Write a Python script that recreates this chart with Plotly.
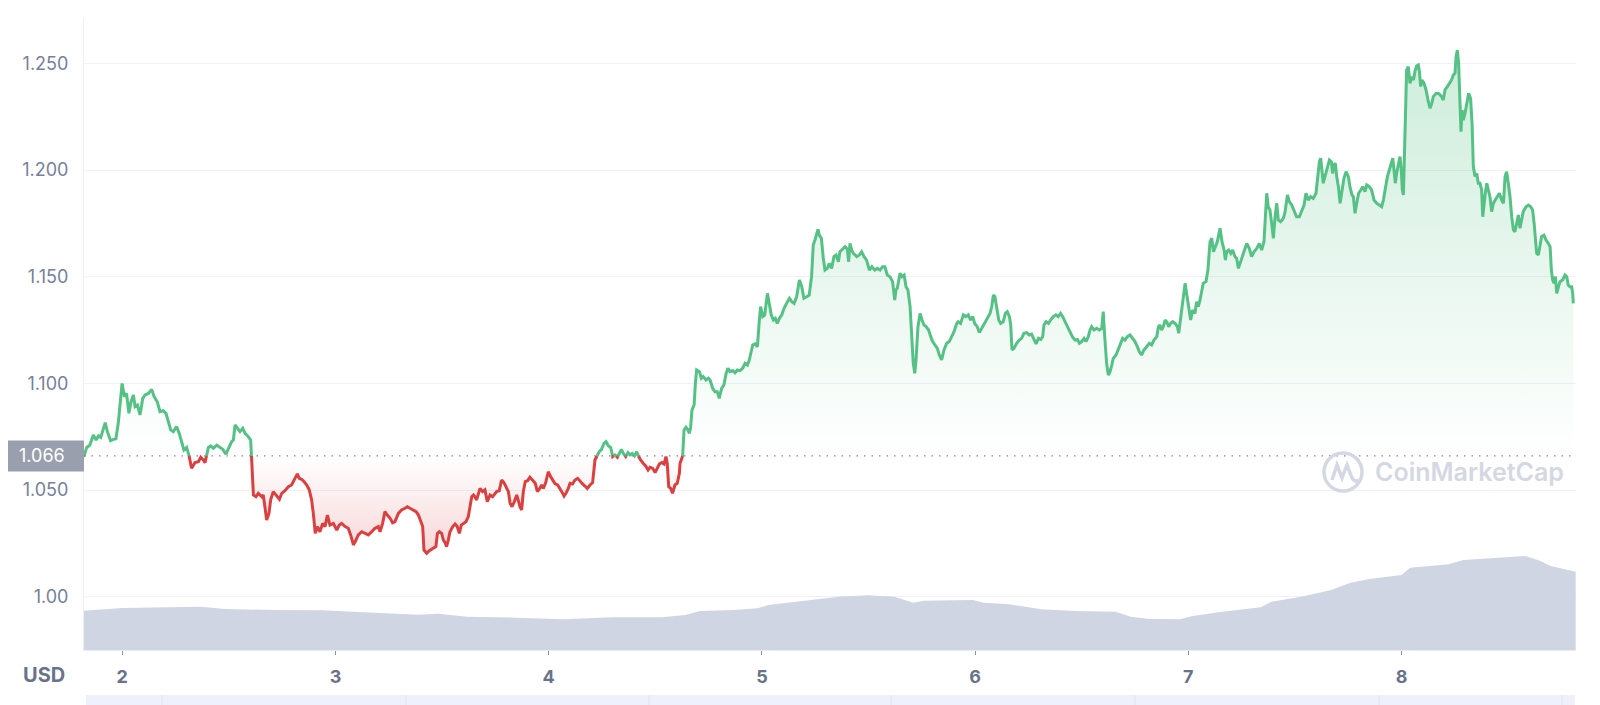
import numpy as np
import plotly.graph_objects as go

# ---------------- data ----------------
days = [
    1.820, 1.833, 1.848, 1.864, 1.877, 1.888, 1.899, 1.911, 1.920, 1.930,
    1.945, 1.958, 1.970, 1.981, 1.989, 1.999, 2.010, 2.020, 2.031, 2.041,
    2.052, 2.060, 2.071, 2.083, 2.096, 2.107, 2.122, 2.138, 2.149, 2.164,
    2.177, 2.192, 2.205, 2.216, 2.227, 2.239, 2.255, 2.267, 2.278, 2.289,
    2.302, 2.314, 2.325, 2.341, 2.357, 2.368, 2.380, 2.388, 2.396, 2.404,
    2.414, 2.427, 2.443, 2.458, 2.471, 2.486, 2.497, 2.513, 2.521, 2.529,
    2.540, 2.552, 2.565, 2.576, 2.591, 2.602, 2.607, 2.615, 2.627, 2.638,
    2.654, 2.661, 2.669, 2.677, 2.688, 2.696, 2.708, 2.721, 2.737, 2.748,
    2.763, 2.779, 2.794, 2.810, 2.821, 2.830, 2.841, 2.852, 2.865, 2.877,
    2.888, 2.896, 2.905, 2.915, 2.927, 2.940, 2.951, 2.962, 2.974, 2.990,
    3.006, 3.018, 3.029, 3.045, 3.060, 3.071, 3.084, 3.096, 3.107, 3.123,
    3.138, 3.154, 3.170, 3.185, 3.201,
    3.209, 3.221, 3.232, 3.243, 3.256, 3.268, 3.279, 3.295, 3.310, 3.326,
    3.337, 3.349, 3.365, 3.378, 3.389, 3.399, 3.409, 3.415, 3.428, 3.440,
    3.451, 3.462, 3.471, 3.478, 3.487, 3.498, 3.506, 3.514, 3.521, 3.529,
    3.537, 3.550, 3.561, 3.571, 3.581, 3.590, 3.600, 3.612, 3.623, 3.631,
    3.639, 3.647, 3.654, 3.662, 3.670, 3.678, 3.690, 3.701, 3.712, 3.725,
    3.737, 3.748, 3.756, 3.768, 3.779, 3.790, 3.800, 3.811, 3.819, 3.828,
    3.839, 3.850, 3.859, 3.865, 3.873, 3.881, 3.890, 3.901, 3.912, 3.925,
    3.937, 3.947, 3.956, 3.967, 3.975, 3.986, 3.998, 4.009, 4.019, 4.030,
    4.042, 4.053, 4.064, 4.072, 4.081, 4.092, 4.100, 4.112, 4.123, 4.136,
    4.147, 4.159, 4.170, 4.181, 4.194, 4.206, 4.217, 4.225, 4.237, 4.248,
    4.259, 4.269, 4.280, 4.291, 4.300, 4.311, 4.322, 4.331, 4.341, 4.350,
    4.361, 4.372, 4.381, 4.392, 4.403, 4.413, 4.422, 4.431, 4.444, 4.455,
    4.466, 4.475, 4.488, 4.499, 4.509, 4.519, 4.530, 4.541, 4.550, 4.556,
    4.563, 4.572, 4.581, 4.592, 4.603, 4.613,
    4.616, 4.628, 4.635, 4.644, 4.653, 4.660, 4.666, 4.672, 4.682, 4.688,
    4.694, 4.707, 4.716, 4.725, 4.738, 4.749, 4.757, 4.769, 4.780, 4.791,
    4.800, 4.811, 4.822, 4.832, 4.841, 4.850, 4.863, 4.874, 4.885, 4.897,
    4.910, 4.921, 4.932, 4.941, 4.947, 4.957, 4.968, 4.979, 4.988, 4.994,
    5.004, 5.013, 5.026, 5.035, 5.044, 5.054, 5.063, 5.072, 5.082, 5.093,
    5.104, 5.116, 5.129, 5.140, 5.151, 5.163, 5.176, 5.187, 5.197, 5.210,
    5.222, 5.233, 5.241, 5.249, 5.257, 5.263, 5.269, 5.279, 5.288, 5.296,
    5.307, 5.316, 5.327, 5.338, 5.348, 5.359, 5.366, 5.379, 5.390, 5.401,
    5.407, 5.413, 5.421, 5.429, 5.445, 5.457, 5.468, 5.479, 5.491, 5.504,
    5.516, 5.529, 5.541, 5.554, 5.566, 5.577, 5.588, 5.601, 5.613, 5.623,
    5.629, 5.635, 5.642, 5.648, 5.657, 5.667, 5.676, 5.685, 5.695, 5.702,
    5.710, 5.717, 5.723, 5.732, 5.742, 5.751, 5.760, 5.770, 5.782, 5.792,
    5.801, 5.812, 5.823, 5.832, 5.843,
    5.854, 5.867, 5.879, 5.890, 5.901, 5.914, 5.921, 5.932, 5.945, 5.957,
    5.968, 5.979, 5.989, 5.998, 6.010, 6.020, 6.031, 6.042, 6.054, 6.070,
    6.078, 6.086, 6.093, 6.101, 6.111, 6.120, 6.132, 6.142, 6.151, 6.161,
    6.167, 6.173, 6.182, 6.195, 6.207, 6.218, 6.229, 6.242, 6.254, 6.265,
    6.276, 6.286, 6.297, 6.308, 6.317, 6.323, 6.333, 6.344, 6.354, 6.367,
    6.379, 6.390, 6.401, 6.411, 6.422, 6.433, 6.445, 6.458, 6.469, 6.480,
    6.489, 6.500, 6.511, 6.520, 6.531, 6.539, 6.547, 6.558, 6.570, 6.583,
    6.594, 6.601, 6.608, 6.617, 6.625, 6.633, 6.641, 6.648, 6.661, 6.670,
    6.680, 6.692, 6.703, 6.714, 6.727, 6.739, 6.750, 6.761, 6.770, 6.781,
    6.792, 6.805, 6.817, 6.828, 6.839, 6.852, 6.860, 6.867, 6.875, 6.883,
    6.891, 6.899, 6.908, 6.917, 6.927, 6.938, 6.949, 6.955, 6.964, 6.974,
    6.985, 6.992, 7.000, 7.011, 7.020, 7.031, 7.039, 7.047, 7.055, 7.064,
    7.070, 7.083, 7.092, 7.102, 7.110, 7.118, 7.127, 7.136, 7.149, 7.158,
    7.168, 7.174, 7.180, 7.189, 7.199, 7.208, 7.219, 7.227, 7.235, 7.243,
    7.250, 7.261, 7.274, 7.286, 7.297, 7.308, 7.321, 7.333, 7.344, 7.355,
    7.363, 7.368, 7.375, 7.383, 7.391, 7.399, 7.407, 7.415, 7.422, 7.433,
    7.446, 7.454, 7.465, 7.474, 7.485, 7.496, 7.508, 7.521, 7.532, 7.543,
    7.552, 7.563, 7.574, 7.586, 7.599, 7.605, 7.615, 7.621, 7.627, 7.633,
    7.641, 7.652, 7.662, 7.671, 7.677, 7.683, 7.690, 7.696, 7.704, 7.712,
    7.721, 7.730, 7.740, 7.751, 7.758, 7.768, 7.774, 7.782, 7.790, 7.799,
    7.809, 7.818, 7.829, 7.837, 7.849, 7.860, 7.871, 7.884, 7.896, 7.907,
    7.915, 7.924, 7.934, 7.943, 7.952, 7.959, 7.965, 7.971, 7.977, 7.985,
    7.993, 7.999, 8.004, 8.009, 8.013, 8.018, 8.024, 8.032, 8.040, 8.048,
    8.056, 8.063, 8.071, 8.079, 8.084, 8.090, 8.096, 8.106, 8.115, 8.126,
    8.134, 8.142, 8.149, 8.162, 8.173, 8.181, 8.188, 8.196, 8.204, 8.215,
    8.224, 8.235, 8.243, 8.251, 8.256, 8.262, 8.268, 8.274, 8.279, 8.284,
    8.290, 8.298, 8.306, 8.315, 8.324, 8.331, 8.337, 8.345, 8.353, 8.360,
    8.368, 8.376, 8.381, 8.387, 8.393, 8.400, 8.407, 8.415, 8.423, 8.431,
    8.440, 8.450, 8.459, 8.470, 8.478, 8.486, 8.493, 8.501, 8.509, 8.517,
    8.525, 8.532, 8.540, 8.548, 8.556, 8.564, 8.571, 8.584, 8.595, 8.606,
    8.615, 8.622, 8.628, 8.634, 8.642, 8.650, 8.657, 8.668, 8.678, 8.689,
    8.697, 8.703, 8.709, 8.715, 8.722, 8.728, 8.736, 8.743, 8.756, 8.767,
    8.775, 8.782, 8.790, 8.798, 8.803, 8.806,
]
price = [
    1.0657, 1.0700, 1.0711, 1.0758, 1.0735, 1.0754, 1.0747, 1.0782, 1.0816, 1.0774,
    1.0732, 1.0738, 1.0741, 1.0813, 1.0891, 1.1000, 1.0938, 1.0953, 1.0860, 1.0914,
    1.0946, 1.0891, 1.0899, 1.0852, 1.0930, 1.0946, 1.0953, 1.0972, 1.0938, 1.0914,
    1.0868, 1.0872, 1.0860, 1.0821, 1.0782, 1.0774, 1.0797, 1.0766, 1.0727, 1.0688,
    1.0700, 1.0657, 1.0602, 1.0629, 1.0633, 1.0654, 1.0641, 1.0629, 1.0665, 1.0700,
    1.0707, 1.0696, 1.0711, 1.0700, 1.0691, 1.0669, 1.0696, 1.0727, 1.0735, 1.0805,
    1.0790, 1.0774, 1.0790, 1.0766, 1.0750, 1.0735, 1.0641, 1.0477, 1.0469, 1.0485,
    1.0469, 1.0477, 1.0422, 1.0360, 1.0391, 1.0454, 1.0493, 1.0477, 1.0457, 1.0485,
    1.0497, 1.0516, 1.0524, 1.0555, 1.0576, 1.0555, 1.0551, 1.0540, 1.0524, 1.0501,
    1.0454, 1.0391, 1.0297, 1.0329, 1.0305, 1.0344, 1.0329, 1.0383, 1.0336, 1.0344,
    1.0313, 1.0336, 1.0344, 1.0329, 1.0321, 1.0290, 1.0243, 1.0266, 1.0290, 1.0305,
    1.0297, 1.0290, 1.0305, 1.0321, 1.0329,
    1.0305, 1.0344, 1.0399, 1.0383, 1.0368, 1.0347, 1.0352, 1.0391, 1.0407, 1.0415,
    1.0422, 1.0415, 1.0407, 1.0399, 1.0383, 1.0360, 1.0329, 1.0219, 1.0204, 1.0216,
    1.0222, 1.0227, 1.0235, 1.0297, 1.0305, 1.0297, 1.0266, 1.0254, 1.0235, 1.0266,
    1.0305, 1.0329, 1.0341, 1.0329, 1.0297, 1.0336, 1.0344, 1.0352, 1.0376, 1.0422,
    1.0469, 1.0477, 1.0469, 1.0454, 1.0477, 1.0508, 1.0493, 1.0501, 1.0446, 1.0477,
    1.0469, 1.0485, 1.0493, 1.0497, 1.0547, 1.0535, 1.0516, 1.0493, 1.0438, 1.0422,
    1.0446, 1.0477, 1.0446, 1.0422, 1.0407, 1.0493, 1.0540, 1.0544, 1.0560, 1.0544,
    1.0532, 1.0493, 1.0504, 1.0524, 1.0508, 1.0535, 1.0586, 1.0563, 1.0544, 1.0529,
    1.0524, 1.0508, 1.0488, 1.0472, 1.0485, 1.0508, 1.0532, 1.0529, 1.0547, 1.0555,
    1.0540, 1.0529, 1.0519, 1.0508, 1.0524, 1.0535, 1.0641, 1.0657, 1.0680, 1.0691,
    1.0719, 1.0727, 1.0707, 1.0700, 1.0657, 1.0665, 1.0654, 1.0672, 1.0691, 1.0672,
    1.0657, 1.0676, 1.0665, 1.0672, 1.0660, 1.0680, 1.0657, 1.0641, 1.0625, 1.0613,
    1.0594, 1.0607, 1.0602, 1.0582, 1.0602, 1.0622, 1.0629, 1.0622, 1.0657, 1.0625,
    1.0516, 1.0508, 1.0485, 1.0524, 1.0532, 1.0579,
    1.0625, 1.0657, 1.0782, 1.0794, 1.0782, 1.0766, 1.0797, 1.0875, 1.0899, 1.1000,
    1.1063, 1.1055, 1.1024, 1.1032, 1.1016, 1.1024, 1.1016, 1.0977, 1.0961, 1.0961,
    1.0930, 1.0977, 1.0993, 1.1047, 1.1071, 1.1055, 1.1060, 1.1050, 1.1063, 1.1060,
    1.1071, 1.1094, 1.1086, 1.1110, 1.1141, 1.1180, 1.1185, 1.1172, 1.1297, 1.1360,
    1.1313, 1.1320, 1.1422, 1.1375, 1.1320, 1.1297, 1.1305, 1.1281, 1.1305, 1.1320,
    1.1352, 1.1375, 1.1399, 1.1383, 1.1375, 1.1406, 1.1484, 1.1453, 1.1399, 1.1406,
    1.1414, 1.1500, 1.1649, 1.1672, 1.1703, 1.1722, 1.1695, 1.1680, 1.1586, 1.1531,
    1.1539, 1.1563, 1.1539, 1.1594, 1.1602, 1.1570, 1.1617, 1.1633, 1.1641, 1.1628,
    1.1570, 1.1656, 1.1625, 1.1609, 1.1594, 1.1602, 1.1617, 1.1594, 1.1578, 1.1531,
    1.1547, 1.1531, 1.1539, 1.1531, 1.1547, 1.1547, 1.1508, 1.1500, 1.1477, 1.1391,
    1.1438, 1.1446, 1.1492, 1.1516, 1.1500, 1.1508, 1.1453, 1.1438, 1.1360, 1.1235,
    1.1094, 1.1047, 1.1110, 1.1266, 1.1328, 1.1297, 1.1274, 1.1266, 1.1250, 1.1219,
    1.1196, 1.1180, 1.1164, 1.1133, 1.1110,
    1.1157, 1.1188, 1.1196, 1.1219, 1.1242, 1.1281, 1.1289, 1.1281, 1.1321, 1.1313,
    1.1321, 1.1297, 1.1313, 1.1281, 1.1266, 1.1238, 1.1258, 1.1281, 1.1305, 1.1328,
    1.1360, 1.1414, 1.1406, 1.1360, 1.1297, 1.1281, 1.1289, 1.1328, 1.1336, 1.1313,
    1.1274, 1.1157, 1.1164, 1.1188, 1.1203, 1.1211, 1.1235, 1.1238, 1.1227, 1.1231,
    1.1206, 1.1185, 1.1211, 1.1206, 1.1219, 1.1274, 1.1289, 1.1281, 1.1297, 1.1313,
    1.1321, 1.1313, 1.1328, 1.1313, 1.1289, 1.1266, 1.1235, 1.1216, 1.1203, 1.1206,
    1.1188, 1.1196, 1.1211, 1.1196, 1.1219, 1.1250, 1.1266, 1.1250, 1.1258, 1.1250,
    1.1258, 1.1336, 1.1219, 1.1094, 1.1039, 1.1055, 1.1086, 1.1117, 1.1133, 1.1157,
    1.1188, 1.1211, 1.1203, 1.1219, 1.1227, 1.1211, 1.1196, 1.1172, 1.1149, 1.1133,
    1.1157, 1.1172, 1.1188, 1.1180, 1.1203, 1.1219, 1.1266, 1.1274, 1.1250, 1.1266,
    1.1297, 1.1289, 1.1266, 1.1281, 1.1289, 1.1281, 1.1266, 1.1235, 1.1313, 1.1375,
    1.1469, 1.1422, 1.1375, 1.1297, 1.1344, 1.1328, 1.1383, 1.1360, 1.1391, 1.1438,
    1.1469, 1.1477, 1.1531, 1.1664, 1.1680, 1.1617, 1.1641, 1.1664, 1.1727, 1.1664,
    1.1625, 1.1578, 1.1617, 1.1625, 1.1609, 1.1625, 1.1594, 1.1586, 1.1539, 1.1563,
    1.1578, 1.1617, 1.1656, 1.1633, 1.1594, 1.1617, 1.1633, 1.1656, 1.1625, 1.1664,
    1.1781, 1.1891, 1.1828, 1.1813, 1.1750, 1.1680, 1.1781, 1.1844, 1.1766, 1.1758,
    1.1774, 1.1805, 1.1883, 1.1852, 1.1836, 1.1805, 1.1781, 1.1781, 1.1805, 1.1836,
    1.1891, 1.1859, 1.1875, 1.1867, 1.1891, 1.1945, 1.2039, 1.2055, 1.2000, 1.1938,
    1.1969, 1.2016, 1.2047, 1.2039, 1.1984, 1.2024, 1.2031, 1.1969, 1.1922, 1.1844,
    1.1906, 1.1961, 1.1992, 1.1969, 1.1922, 1.1883, 1.1875, 1.1797, 1.1844, 1.1891,
    1.1906, 1.1922, 1.1899, 1.1930, 1.1922, 1.1906, 1.1859, 1.1844, 1.1836, 1.1828,
    1.1859, 1.1922, 1.1969, 1.2000, 1.2031, 1.2055, 1.2000, 1.1938, 1.1984, 1.2024,
    1.2063, 1.2000, 1.1906, 1.1883, 1.2063, 1.2281, 1.2469, 1.2484, 1.2406, 1.2437,
    1.2422, 1.2461, 1.2487, 1.2492, 1.2461, 1.2391, 1.2422, 1.2406, 1.2375, 1.2320,
    1.2289, 1.2312, 1.2344, 1.2359, 1.2359, 1.2352, 1.2344, 1.2328, 1.2375, 1.2391,
    1.2406, 1.2422, 1.2445, 1.2453, 1.2531, 1.2562, 1.2500, 1.2266, 1.2180, 1.2281,
    1.2234, 1.2266, 1.2312, 1.2359, 1.2336, 1.2219, 1.2016, 1.1969, 1.1984, 1.1938,
    1.1938, 1.1906, 1.1781, 1.1844, 1.1891, 1.1938, 1.1906, 1.1875, 1.1805, 1.1844,
    1.1859, 1.1875, 1.1891, 1.1859, 1.1844, 1.1969, 1.1992, 1.1938, 1.1875, 1.1781,
    1.1719, 1.1711, 1.1758, 1.1789, 1.1727, 1.1781, 1.1805, 1.1828, 1.1836, 1.1828,
    1.1813, 1.1750, 1.1656, 1.1610, 1.1602, 1.1656, 1.1688, 1.1695, 1.1672, 1.1656,
    1.1641, 1.1531, 1.1485, 1.1469, 1.1500, 1.1422, 1.1453, 1.1477, 1.1485, 1.1508,
    1.1500, 1.1461, 1.1453, 1.1453, 1.1422, 1.1375,
]

# 24h volume (relative units, 0-1000 scale of the chart height)
vol_days = [1.820, 2.00, 2.37, 2.48, 2.71, 2.94, 3.08, 3.21, 3.39, 3.48,
            3.62, 3.85, 4.07, 4.30, 4.53, 4.64, 4.71, 4.87, 4.98, 5.03,
            5.21, 5.36, 5.50, 5.62, 5.67, 5.71, 5.76, 5.99, 6.04, 6.16,
            6.31, 6.47, 6.66, 6.73, 6.82, 6.96, 7.02, 7.16, 7.34, 7.39,
            7.53, 7.67, 7.76, 7.85, 8.00, 8.04, 8.22, 8.29, 8.58, 8.65,
            8.70, 8.817]
volume = [62.2, 66.5, 68.5, 64.9, 63.3, 62.8, 60.6, 58.5, 55.9, 57.4,
          52.7, 51.1, 48.6, 51.7, 51.7, 55.4, 61.7, 63.3, 66.0, 71.2,
          78.0, 84.3, 86.5, 84.3, 79.1, 74.8, 78.0, 79.1, 74.8, 72.3,
          64.4, 61.7, 60.6, 52.7, 49.1, 48.6, 53.8, 60.6, 67.6, 76.4,
          84.3, 94.9, 106.5, 112.3, 118.7, 130.2, 135.6, 142.4, 148.7, 141.3,
          132.9, 123.9]

baseline = 1.066
baseline_label = "1.066"
y_tickvals = [1.00, 1.05, 1.10, 1.15, 1.20, 1.25]
y_ticktext = ["1.00", "1.050", "1.100", "1.150", "1.200", "1.250"]
x_tickvals = [2, 3, 4, 5, 6, 7, 8]
x_ticktext = ["2", "3", "4", "5", "6", "7", "8"]

# ---------------- styling ----------------
GREEN = "#55c184"
RED = "#d9403f"
GRID = "#eef1f5"
TXT = "#76809a"
XTXT = "#68738a"
FONT = "Inter"
OFF = 8                      # page body margin of the html page
W, H = 1600 - OFF, 705 - OFF
ML, MR, MT, MB = 84 - OFF, 24, 18 - OFF, 55
PW, PH = W - ML - MR, H - MT - MB


def px_x(p):  # page pixel -> paper x (decorations only)
    return (p - OFF - ML) / PW


def px_y(p):  # page pixel -> paper y (decorations only)
    return (H - MB - (p - OFF)) / PH


# split the price line at the baseline crossings
xs, ys = [days[0]], [price[0]]
for i in range(1, len(days)):
    p0, p1 = price[i - 1], price[i]
    if (p0 - baseline) * (p1 - baseline) < 0:
        t = (baseline - p0) / (p1 - p0)
        xs.append(days[i - 1] + t * (days[i] - days[i - 1]))
        ys.append(baseline)
    xs.append(days[i])
    ys.append(p1)
xs = np.array(xs)
ys = np.array(ys)
up_line = np.where(ys >= baseline, ys, np.nan)
dn_line = np.where(ys <= baseline, ys, np.nan)
up_fill = np.maximum(ys, baseline)
dn_fill = np.minimum(ys, baseline)
base_arr = np.full_like(ys, baseline)

fig = go.Figure()

fig.add_trace(go.Scatter(
    x=vol_days, y=volume, yaxis="y2", mode="lines", line=dict(width=0, color="#cfd5e2"),
    fill="tozeroy", fillcolor="#cfd5e2", hoverinfo="skip", showlegend=False))

fig.add_trace(go.Scatter(x=xs, y=base_arr, mode="lines", line=dict(width=0),
                         hoverinfo="skip", showlegend=False))
fig.add_trace(go.Scatter(
    x=xs, y=up_fill, mode="lines", line=dict(width=0), fill="tonexty",
    fillgradient=dict(type="vertical", start=baseline, stop=1.26,
                      colorscale=[[0, "rgba(85,193,132,0)"], [1, "rgba(85,193,132,0.30)"]]),
    hoverinfo="skip", showlegend=False))
fig.add_trace(go.Scatter(x=xs, y=base_arr, mode="lines", line=dict(width=0),
                         hoverinfo="skip", showlegend=False))
fig.add_trace(go.Scatter(
    x=xs, y=dn_fill, mode="lines", line=dict(width=0), fill="tonexty",
    fillgradient=dict(type="vertical", start=1.018, stop=baseline,
                      colorscale=[[0, "rgba(217,64,63,0.22)"], [1, "rgba(217,64,63,0)"]]),
    hoverinfo="skip", showlegend=False))

fig.add_trace(go.Scatter(x=xs, y=up_line, mode="lines", connectgaps=False,
                         line=dict(color=GREEN, width=3), showlegend=False))
fig.add_trace(go.Scatter(x=xs, y=dn_line, mode="lines", connectgaps=False,
                         line=dict(color=RED, width=3), showlegend=False))

shapes = [
    # dotted baseline
    dict(type="line", xref="paper", x0=0, x1=1, yref="y", y0=baseline, y1=baseline,
         line=dict(color="#7f889b", width=1.3, dash="1.5px,6px"), layer="above"),
    # baseline value box
    dict(type="rect", xref="paper", x0=px_x(7), x1=0, yref="y",
         ysizemode="pixel", yanchor=baseline, y0=-15.5, y1=15.5,
         fillcolor="#999fac", line=dict(width=0), layer="above"),
    # navigator strip at bottom
    dict(type="rect", xref="paper", yref="paper", x0=px_x(86), x1=px_x(1575),
         y0=px_y(705), y1=px_y(695), fillcolor="#eef1fc", line=dict(width=0)),
    # watermark logo
    dict(type="circle", xref="paper", yref="paper",
         xsizemode="pixel", xanchor=px_x(1343), x0=-19, x1=19,
         ysizemode="pixel", yanchor=px_y(472), y0=-19, y1=19,
         line=dict(color="#d3d8e2", width=3.5), layer="above"),
    dict(type="path", xref="paper", yref="paper",
         xsizemode="pixel", xanchor=px_x(1343), ysizemode="pixel", yanchor=px_y(472),
         path="M -11 -8 L -6 7 L -1 -6 L 4 7 L 9 -6 Q 12 -11 16 -8",
         line=dict(color="#d3d8e2", width=3.5), layer="above"),
]
for sep in [162, 406, 649, 891, 1135, 1379, 1562]:
    shapes.append(dict(type="line", xref="paper", yref="paper", x0=px_x(sep), x1=px_x(sep),
                       y0=px_y(705), y1=px_y(695), line=dict(color="#dde2ef", width=1)))

annotations = [
    dict(text=baseline_label, xref="paper", x=0, xanchor="right", xshift=-17,
         yref="y", y=baseline, yanchor="middle", showarrow=False,
         font=dict(family=FONT, size=18, color="white")),
    dict(text="USD", xref="paper", x=0, xanchor="right", xshift=-17,
         yref="paper", y=0, yanchor="middle", yshift=-25, showarrow=False,
         font=dict(family=FONT, size=20, color=XTXT, weight=700)),
    dict(text="CoinMarketCap", xref="paper", x=px_x(1373), xanchor="left",
         yref="paper", y=px_y(472), yanchor="middle", showarrow=False,
         font=dict(family=FONT, size=25, color="#d3d8e2", weight=600)),
]

fig.update_layout(
    width=W, height=H,
    margin=dict(l=ML, r=MR, t=MT, b=MB, pad=0),
    paper_bgcolor="white", plot_bgcolor="white",
    font=dict(family=FONT, color=TXT),
    showlegend=False,
    xaxis=dict(range=[1.8204, 8.8185], tickvals=x_tickvals, ticktext=x_ticktext,
               showgrid=False, zeroline=False, showline=True, linecolor="#e8ebf0", linewidth=1,
               ticks="outside", ticklen=4, tickcolor="#8a93a6", tickwidth=1,
               tickfont=dict(family=FONT, size=18, color=XTXT, weight=700),
               ticklabelstandoff=6),
    yaxis=dict(range=[0.97507, 1.27123], tickvals=y_tickvals, ticktext=y_ticktext,
               showgrid=True, gridcolor=GRID, gridwidth=1, zeroline=False,
               showline=True, linecolor="#eceff3", linewidth=1, ticks="",
               tickfont=dict(family=FONT, size=18, color=TXT), ticklabelstandoff=11),
    yaxis2=dict(range=[0, 1000], overlaying="y", visible=False),
    shapes=shapes,
    annotations=annotations,
)

fig.write_html("out.html")
